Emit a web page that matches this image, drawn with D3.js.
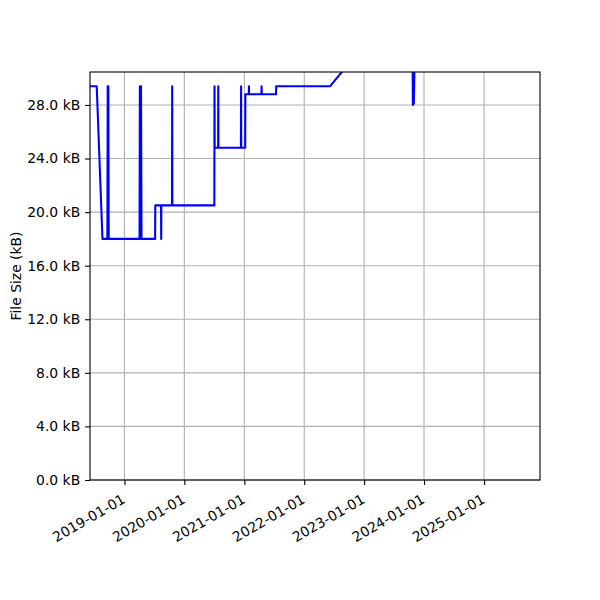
<!DOCTYPE html>
<html>
<head>
<meta charset="utf-8">
<script src="https://cdn.jsdelivr.net/npm/d3@7"></script>
<style>
  body { margin: 0; background: #fff; }
  text { font-family: "DejaVu Sans", sans-serif; fill: #000; }
</style>
</head>
<body>
<script>
// file size history (dates and kB values)
let dates = [
  '2018-06-05', '2018-07-16', '2018-08-20', '2018-09-19', '2018-09-21',
  '2018-09-23', '2018-09-25', '2018-09-27', '2019-04-03', '2019-04-05',
  '2019-04-08', '2019-04-12', '2019-04-15', '2019-07-07', '2019-07-08',
  '2019-08-12', '2019-08-13', '2019-08-14', '2019-10-18', '2019-10-19',
  '2019-10-20', '2020-07-02', '2020-07-03', '2020-07-04', '2020-07-25',
  '2020-07-26', '2020-07-27', '2020-12-11', '2020-12-12', '2020-12-13',
  '2021-01-06', '2021-01-07', '2021-01-28', '2021-01-29', '2021-01-30',
  '2021-04-15', '2021-04-16', '2021-04-17', '2021-07-13', '2021-07-14',
  '2022-06-08', '2022-09-10', '2023-10-24', '2023-10-25', '2023-10-28',
  '2023-10-31', '2023-11-04', '2025-05-01'
];
let sizes = [
  29.4, 29.4, 18.0, 18.0, 29.4,
  18.0, 29.4, 18.0, 18.0, 29.4,
  18.0, 29.4, 18.0, 18.0, 20.5,
  20.5, 18.0, 20.5, 20.5, 29.4,
  20.5, 20.5, 29.4, 24.8, 24.8,
  29.4, 24.8, 24.8, 29.4, 24.8,
  24.8, 28.8, 28.8, 29.4, 28.8,
  28.8, 29.4, 28.8, 28.8, 29.4,
  29.4, 30.8, 31.0, 28.0, 31.0,
  28.1, 31.0, 31.5
];
let yTicks = [0, 4, 8, 12, 16, 20, 24, 28];
let xTicks = ['2019-01-01', '2020-01-01', '2021-01-01', '2022-01-01',
              '2023-01-01', '2024-01-01', '2025-01-01'];

let parse = d3.utcParse('%Y-%m-%d');
let data = dates.map((d, i) => ({ date: parse(d), kb: sizes[i] }));

let w = 600, h = 600;
let mLeft = 90, mRight = 540, mTop = 72, mBottom = 480;

let svg = d3.select('body').append('svg')
  .attr('width', w)
  .attr('height', h);

// scales
let x = d3.scaleUtc()
  .domain([parse('2018-06-05'), parse('2025-12-08')])
  .range([mLeft, mRight]);
let y = d3.scaleLinear()
  .domain([0, 30.46])
  .range([mBottom, mTop]);

// grid
svg.append('g').selectAll('line')
  .data(xTicks.map(parse))
  .enter()
    .append('line')
    .attr('x1', d => x(d)).attr('x2', d => x(d))
    .attr('y1', mTop).attr('y2', mBottom)
    .attr('stroke', '#b0b0b0').attr('stroke-width', 1.1);
svg.append('g').selectAll('line')
  .data(yTicks)
  .enter()
    .append('line')
    .attr('x1', mLeft).attr('x2', mRight)
    .attr('y1', d => y(d)).attr('y2', d => y(d))
    .attr('stroke', '#b0b0b0').attr('stroke-width', 1.1);

// the line, clipped to the axes box
svg.append('clipPath').attr('id', 'clip')
  .append('rect')
  .attr('x', mLeft).attr('y', mTop)
  .attr('width', mRight - mLeft).attr('height', mBottom - mTop);

let line = d3.line()
  .x(d => x(d.date))
  .y(d => y(d.kb));

svg.append('path')
  .datum(data)
  .attr('clip-path', 'url(#clip)')
  .attr('fill', 'none')
  .attr('stroke', '#0000ff')
  .attr('stroke-width', 2.08)
  .attr('stroke-linejoin', 'round')
  .attr('d', line);

// axes
let xAxis = svg.append('g')
  .attr('transform', `translate(0,${mBottom})`)
  .call(d3.axisBottom(x)
    .tickValues(xTicks.map(parse))
    .tickSize(4.9)
    .tickPadding(4.9)
    .tickFormat(d3.utcFormat('%Y-%m-%d')));
xAxis.select('.domain').remove();
xAxis.selectAll('.tick line').attr('stroke-width', 1.1);
xAxis.selectAll('.tick text')
  .attr('font-size', 13.9)
  .attr('font-family', 'DejaVu Sans')
  .attr('text-anchor', 'end')
  .attr('dy', null)
  .attr('y', null)
  .attr('transform', 'translate(-4,13) rotate(-30) translate(0,10.5)');

let yAxis = svg.append('g')
  .attr('transform', `translate(${mLeft},0)`)
  .call(d3.axisLeft(y)
    .tickValues(yTicks)
    .tickSize(4.9)
    .tickPadding(4.9)
    .tickFormat(d => d3.format('.1f')(d) + ' kB'));
yAxis.select('.domain').remove();
yAxis.selectAll('.tick line').attr('stroke-width', 1.1);
yAxis.selectAll('.tick text')
  .attr('font-size', 13.9)
  .attr('font-family', 'DejaVu Sans');

// spines
svg.append('rect')
  .attr('x', mLeft).attr('y', mTop)
  .attr('width', mRight - mLeft).attr('height', mBottom - mTop)
  .attr('fill', 'none')
  .attr('stroke', '#000')
  .attr('stroke-width', 1.1);

// y label
svg.append('text')
  .attr('transform', `translate(21,${(mTop + mBottom) / 2}) rotate(-90)`)
  .attr('text-anchor', 'middle')
  .attr('font-size', 13.9)
  .text('File Size (kB)');
</script>
</body>
</html>
